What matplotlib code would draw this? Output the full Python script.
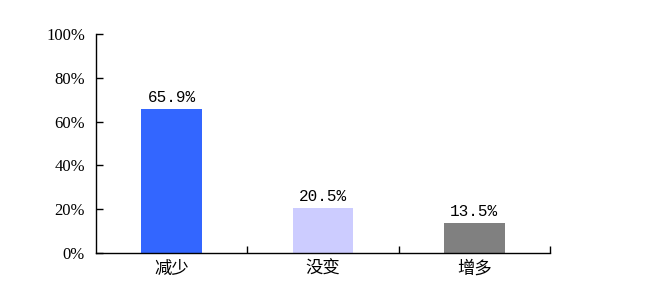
import matplotlib
matplotlib.use('Agg')
import matplotlib.pyplot as plt
from matplotlib.ticker import FixedLocator, PercentFormatter

categories = ['减少', '没变', '增多']
values = [65.9, 20.5, 13.5]
labels = ['65.9%', '20.5%', '13.5%']
colors = ['#3366ff', '#ccccff', '#808080']
yticks = [0, 20, 40, 60, 80, 100]

fig = plt.figure(figsize=(6.49, 3.08), dpi=100)
ax = fig.add_axes([96/649, 55/308, 454/649, 219/308])

x = list(range(len(categories)))
bars = ax.bar(x, values, width=0.4, color=colors)
for b, t in zip(bars, labels):
    ax.text(b.get_x() + b.get_width()/2, b.get_height() + 1.8, t,
            ha='center', va='bottom', fontsize=11.5,
            family=['Liberation Mono', 'DejaVu Sans Mono'])

ax.set_xlim(-0.5, 2.5)
ax.set_ylim(0, 100)
ax.set_yticks(yticks)
ax.yaxis.set_major_formatter(PercentFormatter(decimals=0))
ax.tick_params(axis='y', direction='in', length=5, width=1, labelsize=12, pad=8)
for lab in ax.get_yticklabels():
    lab.set_family(['Liberation Serif', 'DejaVu Serif'])

ax.set_xticks(x)
ax.set_xticklabels(categories, family=['Noto Sans CJK SC', 'DejaVu Sans'], fontsize=12.5)
ax.tick_params(axis='x', which='major', length=0, pad=5)
ax.xaxis.set_minor_locator(FixedLocator([0.5, 1.5, 2.5]))
ax.tick_params(axis='x', which='minor', direction='in', length=5, width=1)

ax.spines['top'].set_visible(False)
ax.spines['right'].set_visible(False)
ax.spines['left'].set_linewidth(1)
ax.spines['bottom'].set_linewidth(1)

fig.savefig('out.png', dpi=100)
